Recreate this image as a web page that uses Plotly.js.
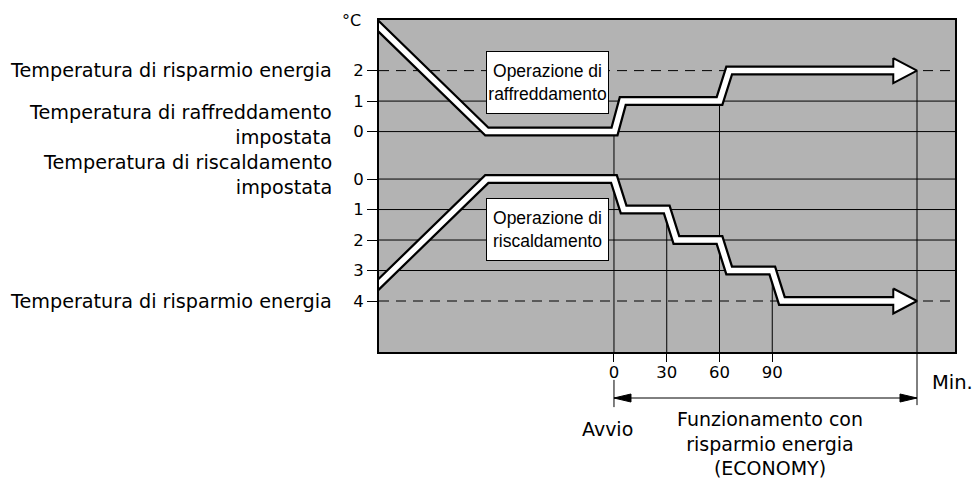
<!DOCTYPE html>
<html>
<head>
<meta charset="utf-8">
<script src="https://cdn.plot.ly/plotly-3.0.1.min.js"></script>
<style>
  html, body { margin: 0; padding: 0; background: #fff; }
  #chart { width: 974px; height: 479px; }
</style>
</head>
<body>
<div id="chart"></div>
<script>
// tempo in minuti, scostamento in °C dalla temperatura impostata
const coolTime = [-140, -72.3, 0.3, 5, 60, 65.5, 161];
const coolTemp = [3.8, 0, 0, 1, 1, 2, 2];
const heatTime = [-140, -72.3, 0, 5.5, 30, 35.5, 60, 65.5, 90, 95.5, 161];
const heatTemp = [3.8, 0, 0, 1, 1, 2, 2, 3, 3, 4, 4];

const coolLevels = [2, 1, 0];
const heatLevels = [0, 1, 2, 3, 4];
const coolTickText = ['2', '1', '0'];
const heatTickText = ['0', '1', '2', '3', '4'];

const minTicks = [0, 30, 60, 90];
const minTickText = ['0', '30', '60', '90'];
const endTime = 172.3;      // fine freccia
const headBase = 158.8;     // base della punta
const headHalf = 0.41;      // semi-altezza punta (°C)

// linee verticali: [tempo, 'cool'|'heat', livello]
const drops = [[0, 'cool', 0], [30, 'heat', 1], [60, 'cool', 1], [90, 'heat', 3], [endTime, 'cool', 2]];

// la scala del riscaldamento e' spostata sotto quella del raffreddamento
const HEAT_ZERO = -1.557;
const Y_RANGE = [-7.23, 3.66];
const X_RANGE = [-133.6, 193.9];

const heatY = h => HEAT_ZERO - h;
const FONT = 'DejaVu Sans, Arial, sans-serif';
const NARROW = 'Liberation Sans, Arial, sans-serif';

function head(level) {
  return {
    x: [headBase, endTime, headBase, headBase],
    y: [level + headHalf, level, level - headHalf, level + headHalf],
    mode: 'lines', fill: 'toself', fillcolor: '#fff',
    line: { color: '#000', width: 2 }, hoverinfo: 'skip'
  };
}

const coolBlack = { x: coolTime, y: coolTemp, mode: 'lines', line: { color: '#000', width: 10 }, hoverinfo: 'skip' };
const heatBlack = { x: heatTime, y: heatTemp.map(heatY), mode: 'lines', line: { color: '#000', width: 10 }, hoverinfo: 'skip' };
const coolWhite = { x: coolTime, y: coolTemp, mode: 'lines', line: { color: '#fff', width: 5.5 }, hoverinfo: 'skip' };
const heatWhite = { x: heatTime, y: heatTemp.map(heatY), mode: 'lines', line: { color: '#fff', width: 5.5 }, hoverinfo: 'skip' };

const shapes = [];
coolLevels.forEach(l => shapes.push({
  type: 'line', xref: 'paper', yref: 'y', x0: 0, x1: 1, y0: l, y1: l, layer: 'below',
  line: { color: '#000', width: 1, dash: l === 2 ? '10px,7px' : 'solid' }
}));
heatLevels.forEach(l => shapes.push({
  type: 'line', xref: 'paper', yref: 'y', x0: 0, x1: 1, y0: heatY(l), y1: heatY(l), layer: 'below',
  line: { color: '#000', width: 1, dash: l === 4 ? '10px,7px' : 'solid' }
}));
drops.forEach(([t, kind, l]) => shapes.push({
  type: 'line', xref: 'x', yref: 'y', x0: t, x1: t,
  y0: kind === 'cool' ? l : heatY(l), y1: Y_RANGE[0], layer: 'below',
  line: { color: '#000', width: 1 }
}));
// prolungamenti sotto il grafico e freccia doppia
shapes.push({ type: 'line', xref: 'x', yref: 'paper', x0: 0, x1: 0, y0: -0.084, y1: -0.166, line: { color: '#000', width: 1 } });
shapes.push({ type: 'line', xref: 'x', yref: 'paper', x0: endTime, x1: endTime, y0: 0, y1: -0.16, line: { color: '#000', width: 1 } });
shapes.push({ type: 'line', xref: 'x', yref: 'paper', x0: 0, x1: endTime, y0: -0.1386, y1: -0.1386, line: { color: '#000', width: 1 } });
shapes.push({
  type: 'path', xref: 'x', yref: 'paper', xsizemode: 'pixel', ysizemode: 'pixel',
  xanchor: 0, yanchor: -0.1386, path: 'M0,0L17,4L17,-4Z', fillcolor: '#000', line: { color: '#000', width: 1 }
});
shapes.push({
  type: 'path', xref: 'x', yref: 'paper', xsizemode: 'pixel', ysizemode: 'pixel',
  xanchor: endTime, yanchor: -0.1386, path: 'M0,0L-17,4L-17,-4Z', fillcolor: '#000', line: { color: '#000', width: 1 }
});

const leftLabel = (text, y) => ({
  text, xref: 'paper', yref: 'y', x: -0.078, y, xanchor: 'right', yanchor: 'middle',
  align: 'right', showarrow: false, font: { family: FONT, size: 19.2, color: '#000' }
});
const boxLabel = (text, y) => ({
  text, xref: 'x', yref: 'y', x: -37.9, y, xanchor: 'center', yanchor: 'middle', align: 'center',
  showarrow: false, bgcolor: '#fff', bordercolor: '#000', borderwidth: 1, borderpad: 0,
  width: 121, height: 61, font: { family: NARROW, size: 17.5, color: '#000' }
});

const annotations = [
  { text: '°C', xref: 'paper', yref: 'paper', x: -0.028, y: 0.997, xanchor: 'right', yanchor: 'middle', showarrow: false, font: { family: FONT, size: 16, color: '#000' } },
  leftLabel('Temperatura di risparmio energia', 2),
  leftLabel('Temperatura di raffreddamento<br>impostata', 0.2),
  leftLabel('Temperatura di riscaldamento<br>impostata', HEAT_ZERO + 0.12),
  leftLabel('Temperatura di risparmio energia', heatY(4)),
  boxLabel('Operazione di<br>raffreddamento', 1.62),
  boxLabel('Operazione di<br>riscaldamento', heatY(1.64)),
  { text: 'Min.', xref: 'paper', yref: 'paper', x: 0.9566, y: -0.0904, xanchor: 'left', yanchor: 'middle', showarrow: false, font: { family: FONT, size: 19.5, color: '#000' } },
  { text: 'Avvio', xref: 'x', yref: 'paper', x: -3.4, y: -0.232, xanchor: 'center', yanchor: 'middle', showarrow: false, font: { family: FONT, size: 19, color: '#000' } },
  { text: 'Funzionamento con<br>risparmio energia<br>(ECONOMY)', xref: 'x', yref: 'paper', x: 88.8, y: -0.277, xanchor: 'center', yanchor: 'middle', showarrow: false, font: { family: FONT, size: 19, color: '#000' } }
];

const layout = {
  width: 974, height: 479,
  margin: { l: 379, r: 19, t: 20, b: 127 },
  paper_bgcolor: '#fff',
  plot_bgcolor: '#b3b3b3',
  showlegend: false,
  hovermode: false,
  xaxis: {
    range: X_RANGE, showgrid: false, zeroline: false,
    showline: true, linecolor: '#000', linewidth: 2, mirror: true,
    ticks: 'outside', ticklen: 8, tickwidth: 1, tickcolor: '#000',
    ticklabelstandoff: -4,
    tickvals: minTicks, ticktext: minTickText,
    tickfont: { family: FONT, size: 16.5, color: '#000' }
  },
  yaxis: {
    range: Y_RANGE, showgrid: false, zeroline: false,
    showline: true, linecolor: '#000', linewidth: 2, mirror: true,
    ticks: 'outside', ticklen: 10, tickwidth: 1, tickcolor: '#000',
    tickvals: coolLevels.concat(heatLevels.map(heatY)),
    ticktext: coolTickText.concat(heatTickText),
    tickfont: { family: FONT, size: 16.5, color: '#000' }
  },
  shapes,
  annotations
};

Plotly.newPlot('chart', [coolBlack, heatBlack, head(2), head(heatY(4)), coolWhite, heatWhite], layout, { displayModeBar: false, staticPlot: true });
</script>
</body>
</html>
